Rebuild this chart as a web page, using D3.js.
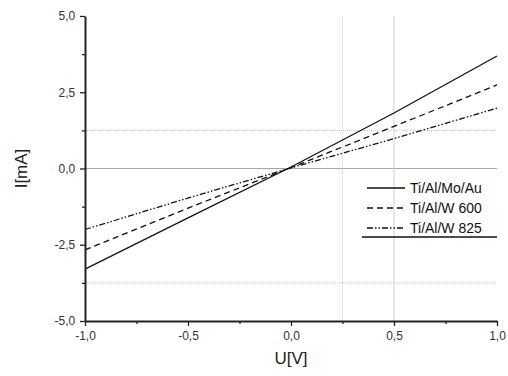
<!DOCTYPE html>
<html>
<head>
<meta charset="utf-8">
<script src="https://cdn.jsdelivr.net/npm/d3@7"></script>
<style>
  html, body { margin: 0; padding: 0; background: #fff; }
  svg { display: block; font-family: "Liberation Sans", Arial, sans-serif; }
</style>
</head>
<body>
<svg id="chart" width="508" height="376"></svg>
<script>
// Voltage sweep (V) and measured current (mA) for each contact stack
const voltage = [-1.0, -0.5, 0.0, 0.5, 1.0];
const currentMoAu = [-3.30, -1.62, 0.05, 1.82, 3.69];
const currentW600 = [-2.67, -1.30, 0.03, 1.38, 2.74];
const currentW825 = [-2.00, -0.97, 0.02, 0.98, 1.98];

const seriesNames = ["Ti/Al/Mo/Au", "Ti/Al/W 600", "Ti/Al/W 825"];
const seriesDash = [null, "6,4", "6,2,1.5,2,1.5,2"];

const xTicks = [-1.0, -0.5, 0.0, 0.5, 1.0];
const xMinorTicks = [-0.75, -0.25, 0.25, 0.75];
const yTicks = [-5.0, -2.5, 0.0, 2.5, 5.0];
const yMinorTicks = [-3.75, -1.25, 1.25, 3.75];

const fmt = v => d3.format(".1f")(v).replace(".", ",").replace("−", "-");

const svg = d3.select("#chart");
const plotLeft = 85, plotRight = 497, plotTop = 16, plotBottom = 321;

const x = d3.scaleLinear().domain([-1, 1]).range([plotLeft, plotRight]);
const y = d3.scaleLinear().domain([-5, 5]).range([plotBottom, plotTop]);

// reference lines inside the plot area
const grid = svg.append("g");
grid.append("line")
  .attr("x1", plotLeft).attr("x2", plotRight).attr("y1", y(0)).attr("y2", y(0))
  .attr("stroke", "#a8a8a8").attr("stroke-width", 1);
[1.25, -3.75].forEach(v => grid.append("line")
  .attr("x1", plotLeft).attr("x2", plotRight).attr("y1", y(v)).attr("y2", y(v))
  .attr("stroke", "#c4c4c4").attr("stroke-width", 1).attr("stroke-dasharray", "1,1"));
grid.append("line")
  .attr("x1", x(0.25)).attr("x2", x(0.25)).attr("y1", plotTop).attr("y2", plotBottom)
  .attr("stroke", "#d4d4d4").attr("stroke-width", 1).attr("stroke-dasharray", "1,1");
grid.append("line")
  .attr("x1", x(0.5)).attr("x2", x(0.5)).attr("y1", plotTop).attr("y2", plotBottom)
  .attr("stroke", "#cfcfcf").attr("stroke-width", 1);

// data lines
const allSeries = [currentMoAu, currentW600, currentW825];
const line = d3.line().x(d => x(d[0])).y(d => y(d[1]));
allSeries.forEach((vals, i) => {
  svg.append("path")
    .datum(voltage.map((v, j) => [v, vals[j]]))
    .attr("d", line)
    .attr("fill", "none")
    .attr("stroke", "#111")
    .attr("stroke-width", 1.3)
    .attr("stroke-dasharray", seriesDash[i]);
});

// axes
const xAxis = svg.append("g").attr("transform", `translate(0,${plotBottom})`)
  .call(d3.axisBottom(x).tickValues(xTicks).tickFormat(fmt).tickSize(5).tickSizeOuter(0));
svg.append("g").attr("transform", `translate(0,${plotBottom})`)
  .call(d3.axisBottom(x).tickValues(xMinorTicks).tickFormat("").tickSize(3).tickSizeOuter(0))
  .call(g => g.select(".domain").remove());
const yAxis = svg.append("g").attr("transform", `translate(${plotLeft},0)`)
  .call(d3.axisLeft(y).tickValues(yTicks).tickFormat(fmt).tickSize(5).tickSizeOuter(0));
svg.append("g").attr("transform", `translate(${plotLeft},0)`)
  .call(d3.axisLeft(y).tickValues(yMinorTicks).tickFormat("").tickSize(3).tickSizeOuter(0))
  .call(g => g.select(".domain").remove());

svg.selectAll(".domain").attr("stroke", "#222").attr("stroke-width", 2);
svg.selectAll(".tick line").attr("stroke", "#222").attr("stroke-width", 1.3);
xAxis.selectAll("text").attr("font-size", 12).attr("fill", "#333").attr("dy", "0.95em")
  .attr("font-family", "Liberation Sans, Arial, sans-serif");
yAxis.selectAll("text").attr("font-size", 12).attr("fill", "#333").attr("dx", "-0.15em")
  .attr("font-family", "Liberation Sans, Arial, sans-serif");

// axis titles
svg.append("text")
  .attr("x", (plotLeft + plotRight) / 2).attr("y", 364)
  .attr("text-anchor", "middle").attr("font-size", 17).attr("fill", "#222")
  .text("U[V]");
svg.append("text")
  .attr("transform", `translate(27,${y(0)}) rotate(-90)`)
  .attr("text-anchor", "middle").attr("font-size", 17).attr("fill", "#222")
  .text("I[mA]");

// legend
const legend = svg.append("g");
seriesNames.forEach((name, i) => {
  const ly = 188 + i * 20;
  legend.append("line")
    .attr("x1", 367).attr("x2", 405).attr("y1", ly).attr("y2", ly)
    .attr("stroke", "#111").attr("stroke-width", 1.3)
    .attr("stroke-dasharray", seriesDash[i]);
  legend.append("text")
    .attr("x", 410).attr("y", ly).attr("dy", "0.35em")
    .attr("font-size", 14).attr("fill", "#111")
    .text(name);
});
legend.append("line")
  .attr("x1", 362).attr("x2", 497).attr("y1", 237).attr("y2", 237)
  .attr("stroke", "#111").attr("stroke-width", 1.3);
</script>
</body>
</html>
